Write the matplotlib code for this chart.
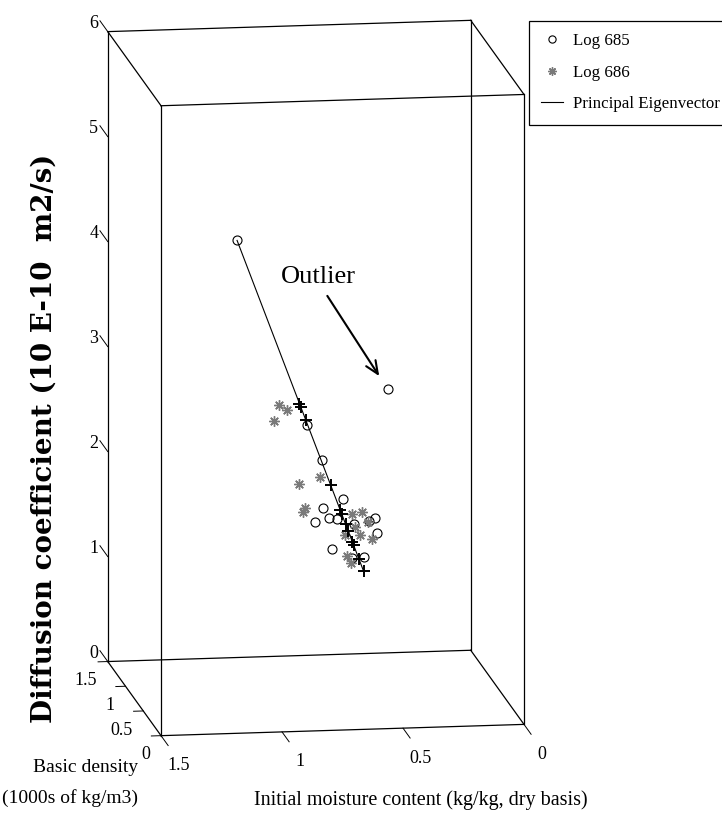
import numpy as np
import matplotlib
matplotlib.use("Agg")
import matplotlib.pyplot as plt
from mpl_toolkits.mplot3d import proj3d

plt.rcParams['font.family'] = ['Liberation Serif', 'DejaVu Serif']

# axis ticks
dens_ticks = [0, 0.5, 1, 1.5]
moist_ticks = [0, 0.5, 1, 1.5]
diff_ticks = [0, 1, 2, 3, 4, 5, 6]

# Log 685: initial moisture (kg/kg), basic density (1000 kg/m3), diffusion coef (1e-10 m2/s)
moist_685 = [1.127, 0.498, 0.837, 0.772, 0.686, 0.760, 0.801, 0.738, 0.714, 0.635, 0.579, 0.545, 0.541, 0.728, 0.649, 0.595]
dens_685 = [0.40, 0.45, 0.42, 0.44, 0.41, 0.47, 0.43, 0.45, 0.40, 0.46, 0.42, 0.48, 0.44, 0.46, 0.41, 0.45]
diff_685 = [4.502, 3.019, 2.715, 2.368, 2.004, 1.891, 1.779, 1.803, 1.816, 1.734, 1.777, 1.776, 1.651, 1.503, 1.435, 1.422]

# Log 686
moist_686 = [0.939, 0.902, 0.961, 0.767, 0.858, 0.830, 0.832, 0.639, 0.587, 0.571, 0.622, 0.666, 0.600, 0.556, 0.655, 0.634]
dens_686 = [0.50, 0.53, 0.48, 0.52, 0.49, 0.51, 0.54, 0.50, 0.55, 0.49, 0.52, 0.50, 0.53, 0.48, 0.51, 0.54]
diff_686 = [2.875, 2.806, 2.734, 2.163, 2.117, 1.877, 1.825, 1.816, 1.803, 1.734, 1.676, 1.613, 1.594, 1.581, 1.412, 1.330]

# principal eigenvector end points
eig_moist = [1.127, 0.592]
eig_dens = [0.40, 0.47]
eig_diff = [4.502, 1.269]

# points projected onto the eigenvector
proj_moist = [0.864, 0.858, 0.838, 0.733, 0.692, 0.685, 0.669, 0.659, 0.641, 0.636, 0.614, 0.594]
proj_dens = [0.4345, 0.4352, 0.4378, 0.4515, 0.4569, 0.4578, 0.4599, 0.4613, 0.4636, 0.4643, 0.4672, 0.4697]
proj_diff = [2.910, 2.876, 2.754, 2.121, 1.873, 1.834, 1.737, 1.673, 1.566, 1.532, 1.400, 1.284]

W, H = 722, 815
fig = plt.figure(figsize=(W / 100, H / 100), dpi=100)
ax = fig.add_axes([0, 0, 1, W / H], projection='3d')
ax.set_proj_type('ortho')
ax.view_init(elev=12, azim=171.5)
ax.set_box_aspect((360.5, 367, 644))
ax.set_xlim(0, 1.5)
ax.set_ylim(0, 1.5)
ax.set_zlim(0, 6)
ax.set_axis_off()

# box (x = density, y = moisture, z = diffusion)
d0, d1 = 0, 1.5
m0, m1 = 0, 1.5
z0, z1 = 0, 6
kw = dict(color='k', lw=0.9)
for a in (d0, d1):
    for b in (m0, m1):
        ax.plot([a, a], [b, b], [z0, z1], **kw)
    for c in (z0, z1):
        ax.plot([a, a], [m0, m1], [c, c], **kw)
for b in (m0, m1):
    for c in (z0, z1):
        ax.plot([d0, d1], [b, b], [c, c], **kw)

# tick marks
for z in diff_ticks:
    ax.plot([1.5, 1.72], [1.5, 1.5], [z, z], color='k', lw=0.7)
for d in dens_ticks:
    ax.plot([d, d], [1.5, 1.54], [0, 0], color='k', lw=0.7)
for m in moist_ticks:
    ax.plot([0, -0.2], [m, m], [0, 0], color='k', lw=0.7)

h1, = ax.plot(dens_685, moist_685, diff_685, ls='none', marker='o', ms=6.5,
              mfc='none', mec='k', mew=0.8, label='Log 685')
h2, = ax.plot(dens_686, moist_686, diff_686, ls='none', marker=(8, 2, 0), ms=7.5,
              color='#7a7a7a', mew=1.0, label='Log 686')
h3, = ax.plot(eig_dens, eig_moist, eig_diff, color='k', lw=0.8,
              label='Principal Eigenvector')
ax.plot(proj_dens, proj_moist, proj_diff, ls='none', marker='+', ms=9,
        color='k', mew=1.4)

# fit the projected box onto the reference pixel frame
fig.canvas.draw()
M = ax.get_proj()


def to2d(d, m, z):
    x2, y2, _ = proj3d.proj_transform(np.atleast_1d(np.array(d, float)),
                                      np.atleast_1d(np.array(m, float)),
                                      np.atleast_1d(np.array(z, float)), M)
    return x2, y2


cx, cy, cz = [], [], []
for a in (d0, d1):
    for b in (m0, m1):
        for c in (z0, z1):
            cx.append(a); cy.append(b); cz.append(c)
px, py = to2d(cx, cy, cz)
disp = ax.transData.transform(np.column_stack([px, py]))
pos = ax.get_position()
L, B, S = pos.x0 * W, pos.y0 * H, pos.width * W
u = (disp[:, 0] - L) / S
v = (disp[:, 1] - B) / S
S2 = (524 - 107.75) / (u.max() - u.min())
L2 = 107.75 - u.min() * S2
yc = H - (21.7 + 734.3) / 2
B2 = yc - (v.max() + v.min()) / 2 * S2
ax.set_position([L2 / W, B2 / H, S2 / W, S2 / H])


def label(d, m, z, s, **kw):
    x2, y2 = to2d(d, m, z)
    ax.text2D(x2[0], y2[0], s, transform=ax.transData, fontsize=13, **kw)


for z in diff_ticks:
    label(1.70, 1.51, z - 0.015, f'{z:g}', ha='right', va='center')
for d in dens_ticks:
    label(d, 1.545, -0.18, f'{d:g}', ha='right', va='center')
for m in moist_ticks:
    label(-0.50, m, -0.05, f'{m:g}', ha='center', va='center')

ox, oy = to2d(dens_685[1], moist_685[1], diff_685[1])
ax.annotate('Outlier', xy=(ox[0], oy[0]), xytext=(-69.5, 111.5),
            textcoords='offset pixels', ha='center', va='center', fontsize=19,
            arrowprops=dict(arrowstyle='->,head_length=0.46,head_width=0.2',
                            lw=1.5, color='k', shrinkA=4, shrinkB=11,
                            relpos=(0.56, 0), mutation_scale=20))

fig.text(44 / W, 1 - 438 / H, 'Diffusion coefficient (10 E-10  m2/s)',
         rotation=90, ha='center', va='center', fontsize=20,
         fontweight='bold', family='DejaVu Serif')
fig.text(138 / W, 1 - 767 / H, 'Basic density', ha='right', va='center', fontsize=14)
fig.text(138 / W, 1 - 798 / H, '(1000s of kg/m3)', ha='right', va='center', fontsize=14)
fig.text(421 / W, 1 - 800 / H, 'Initial moisture content (kg/kg, dry basis)',
         ha='center', va='center', fontsize=14.5)

leg = fig.legend(handles=[h1, h2, h3], loc='upper left',
                 bbox_to_anchor=(529 / W, 1 - 20.7 / H), bbox_transform=fig.transFigure,
                 borderaxespad=0, fancybox=False, edgecolor='k', framealpha=1,
                 fontsize=12.2, handlelength=1.3, handletextpad=0.55,
                 labelspacing=0.93, borderpad=0.72, markerscale=0.8)
leg.get_frame().set_linewidth(0.9)

fig.savefig('out.png', dpi=100)
